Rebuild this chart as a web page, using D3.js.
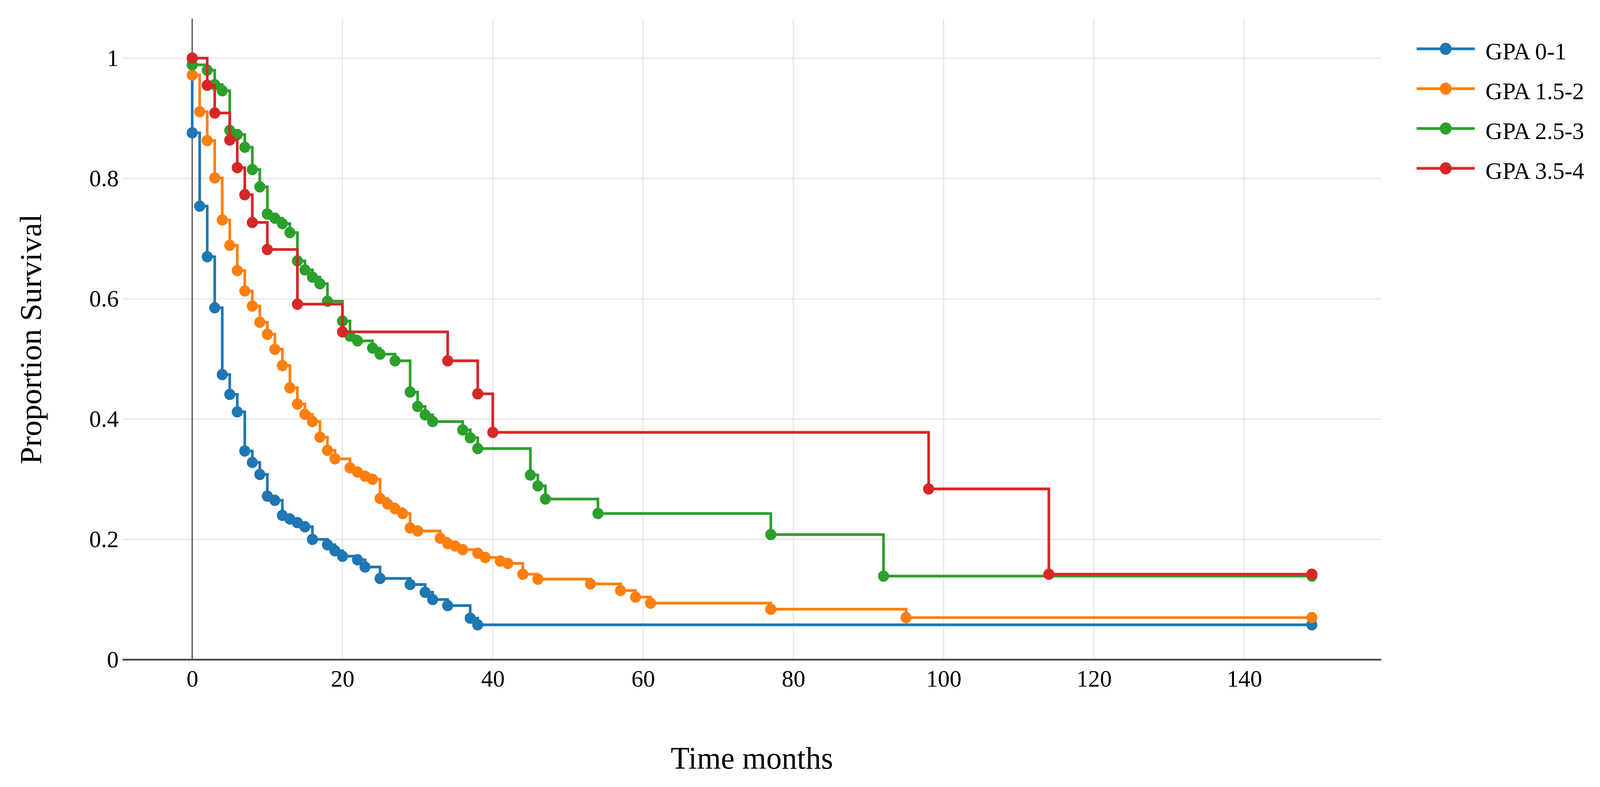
<!DOCTYPE html>
<html>
<head>
<meta charset="utf-8">
<script src="https://cdn.jsdelivr.net/npm/d3@7"></script>
<style>
  html, body { margin: 0; padding: 0; background: #ffffff; overflow: hidden; width: 100%; height: 100%; }
  svg { display: block; width: 100vw; height: 100vh; }
</style>
</head>
<body>
<svg id="chart"></svg>
<script>
// ---------------- DATA ----------------
const seriesNames  = ["GPA 0-1", "GPA 1.5-2", "GPA 2.5-3", "GPA 3.5-4"];
const seriesColors = ["#1f77b4", "#ff7f0e", "#2ca02c", "#d62728"];

const gpa01Time = [0, 0, 1, 2, 3, 4, 5, 6, 7, 8, 9, 10, 11, 12, 13, 14, 15, 16, 18, 19, 20, 22, 23, 25, 29, 31, 32, 34, 37, 38, 149];
const gpa01Surv = [1, 0.876, 0.754, 0.670, 0.585, 0.474, 0.441, 0.412, 0.347, 0.328, 0.308, 0.272, 0.265, 0.240, 0.234, 0.228, 0.221, 0.200, 0.191, 0.181, 0.172, 0.166, 0.154, 0.135, 0.125, 0.112, 0.100, 0.090, 0.069, 0.058, 0.058];

const gpa152Time = [0, 0, 1, 2, 3, 4, 5, 6, 7, 8, 9, 10, 11, 12, 13, 14, 15, 16, 17, 18, 19, 21, 22, 23, 24, 25, 26, 27, 28, 29, 30, 33, 34, 35, 36, 38, 39, 41, 42, 44, 46, 53, 57, 59, 61, 77, 95, 149];
const gpa152Surv = [1, 0.972, 0.911, 0.863, 0.801, 0.731, 0.689, 0.647, 0.613, 0.588, 0.561, 0.541, 0.516, 0.489, 0.452, 0.425, 0.408, 0.396, 0.370, 0.348, 0.334, 0.319, 0.312, 0.305, 0.300, 0.268, 0.259, 0.251, 0.243, 0.219, 0.214, 0.202, 0.193, 0.189, 0.183, 0.177, 0.170, 0.164, 0.160, 0.142, 0.134, 0.126, 0.115, 0.104, 0.094, 0.084, 0.070, 0.070];

const gpa253Time = [0, 0, 2, 3, 4, 5, 6, 7, 8, 9, 10, 11, 12, 13, 14, 15, 16, 17, 18, 20, 21, 22, 24, 25, 27, 29, 30, 31, 32, 36, 37, 38, 45, 46, 47, 54, 77, 92, 149];
const gpa253Surv = [1, 0.989, 0.980, 0.956, 0.946, 0.880, 0.873, 0.852, 0.815, 0.786, 0.741, 0.734, 0.725, 0.710, 0.663, 0.648, 0.636, 0.625, 0.596, 0.563, 0.538, 0.530, 0.518, 0.508, 0.497, 0.445, 0.421, 0.407, 0.396, 0.382, 0.369, 0.351, 0.307, 0.289, 0.267, 0.243, 0.208, 0.139, 0.139];

const gpa354Time = [0, 2, 3, 5, 6, 7, 8, 10, 14, 20, 34, 38, 40, 98, 114, 149];
const gpa354Surv = [1, 0.955, 0.909, 0.864, 0.818, 0.773, 0.727, 0.682, 0.591, 0.545, 0.497, 0.442, 0.378, 0.284, 0.142, 0.142];

const xTickValues = [0, 20, 40, 60, 80, 100, 120, 140];
const yTickValues = [0, 0.2, 0.4, 0.6, 0.8, 1];
const xTitle = "Time months";
const yTitle = "Proportion Survival";

// ---------------- LAYOUT ----------------
const W = 4205, H = 2015;
const plot = { left: 322, right: 3630, top: 48, bottom: 1689 };
const xDomain = [-9.27, 158.23];
const yDomain = [0, 1.0656];
const fontFamily = "'Liberation Serif', 'Times New Roman', Times, serif";

const svg = d3.select("#chart")
  .attr("viewBox", `0 0 ${W} ${H}`)
  .attr("preserveAspectRatio", "none");
svg.append("rect").attr("width", W).attr("height", H).attr("fill", "#ffffff");

const x = d3.scaleLinear().domain(xDomain).range([plot.left, plot.right]);
const y = d3.scaleLinear().domain(yDomain).range([plot.bottom, plot.top]);

// gridlines
const grid = svg.append("g").attr("class", "grid");
grid.selectAll("line.vg").data(xTickValues.filter(d => d !== 0)).join("line")
  .attr("class", "vg")
  .attr("x1", d => x(d)).attr("x2", d => x(d))
  .attr("y1", plot.top).attr("y2", plot.bottom)
  .attr("stroke", "#e6e6e6").attr("stroke-width", 3);
grid.selectAll("line.hg").data(yTickValues.filter(d => d !== 0)).join("line")
  .attr("class", "hg")
  .attr("x1", plot.left).attr("x2", plot.right)
  .attr("y1", d => y(d)).attr("y2", d => y(d))
  .attr("stroke", "#e6e6e6").attr("stroke-width", 3);

// zero line (x = 0)
svg.append("line")
  .attr("x1", x(0)).attr("x2", x(0))
  .attr("y1", plot.top).attr("y2", plot.bottom)
  .attr("stroke", "#444444").attr("stroke-width", 3);

// axes (labels only)
const xAxis = d3.axisBottom(x).tickValues(xTickValues).tickSize(0).tickPadding(25)
  .tickFormat(d3.format("d"));
const gx = svg.append("g").attr("transform", `translate(0,${plot.bottom})`).call(xAxis);
gx.select(".domain").remove();
gx.selectAll("text").attr("font-family", fontFamily).attr("font-size", 62).attr("fill", "#000");

const yAxis = d3.axisLeft(y).tickValues(yTickValues).tickSize(0).tickPadding(10)
  .tickFormat(d => String(+d.toFixed(1)));
const gy = svg.append("g").attr("transform", `translate(${plot.left},0)`).call(yAxis);
gy.select(".domain").remove();
gy.selectAll("text").attr("font-family", fontFamily).attr("font-size", 62).attr("fill", "#000");

// x axis line at y = 0
svg.append("line")
  .attr("x1", plot.left).attr("x2", plot.right)
  .attr("y1", y(0)).attr("y2", y(0))
  .attr("stroke", "#444444").attr("stroke-width", 4.5);

// series
const series = [
  { name: seriesNames[0], color: seriesColors[0], t: gpa01Time,  s: gpa01Surv },
  { name: seriesNames[1], color: seriesColors[1], t: gpa152Time, s: gpa152Surv },
  { name: seriesNames[2], color: seriesColors[2], t: gpa253Time, s: gpa253Surv },
  { name: seriesNames[3], color: seriesColors[3], t: gpa354Time, s: gpa354Surv }
];

const line = d3.line().x(d => x(d.t)).y(d => y(d.s)).curve(d3.curveStepAfter);

series.forEach(sr => {
  const pts = sr.t.map((t, i) => ({ t: t, s: sr.s[i] }));
  const g = svg.append("g").attr("class", "trace");
  g.append("path").datum(pts)
    .attr("d", line)
    .attr("fill", "none")
    .attr("stroke", sr.color)
    .attr("stroke-width", 7)
    .attr("stroke-linejoin", "miter");
  g.selectAll("circle").data(pts).join("circle")
    .attr("cx", d => x(d.t)).attr("cy", d => y(d.s))
    .attr("r", 14.5)
    .attr("fill", sr.color);
});

// axis titles
svg.append("text")
  .attr("x", (plot.left + plot.right) / 2).attr("y", 1968)
  .attr("text-anchor", "middle")
  .attr("font-family", fontFamily).attr("font-size", 81).attr("fill", "#000")
  .text(xTitle);

svg.append("text")
  .attr("transform", `translate(108,${(plot.top + plot.bottom) / 2}) rotate(-90)`)
  .attr("text-anchor", "middle")
  .attr("font-family", fontFamily).attr("font-size", 81).attr("fill", "#000")
  .text(yTitle);

// legend
const legend = svg.append("g").attr("class", "legend");
const legX1 = 3723, legX2 = 3876, legTextX = 3904, legY0 = 125, legStep = 102;
series.forEach((sr, i) => {
  const ly = legY0 + i * legStep;
  legend.append("line")
    .attr("x1", legX1).attr("x2", legX2).attr("y1", ly).attr("y2", ly)
    .attr("stroke", sr.color).attr("stroke-width", 7);
  legend.append("circle")
    .attr("cx", (legX1 + legX2) / 2).attr("cy", ly).attr("r", 15.5)
    .attr("fill", sr.color);
  legend.append("text")
    .attr("x", legTextX).attr("y", ly + 27)
    .attr("font-family", fontFamily).attr("font-size", 62).attr("fill", "#000")
    .text(sr.name);
});
</script>
</body>
</html>
